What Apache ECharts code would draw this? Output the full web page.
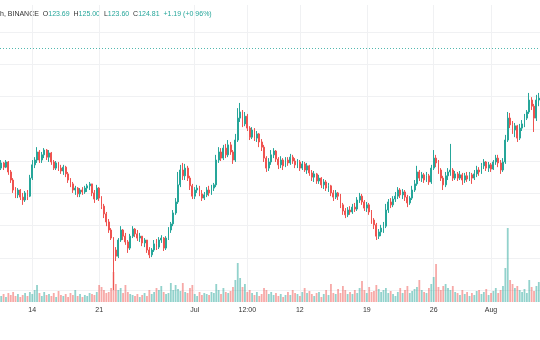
<!DOCTYPE html>
<html><head><meta charset="utf-8">
<script src="https://cdn.jsdelivr.net/npm/echarts@6/dist/echarts.min.js"></script>
<style>html,body{margin:0;padding:0;background:#fff}#c{width:540px;height:340px}</style>
</head><body><div id="c"></div>
<script>
// 6h candles starting 2022-06-10 18:00 UTC
const startUTC = Date.UTC(2022, 5, 10, 18);
const stepHours = 6;
const firstOpen = 87.8;
const closes = [
89.4,88.1,89.7,86.6,84.1,81.0,79.5,81.0,78.8,77.9,
80.1,79.1,84.7,88.8,90.3,92.8,90.3,91.9,93.4,91.2,
92.5,89.7,87.8,89.4,87.8,86.9,88.1,86.0,84.1,82.9,
81.0,81.6,79.8,81.0,80.4,81.6,82.3,82.9,80.1,78.2,
81.6,78.5,76.0,73.6,71.1,68.6,66.1,62.4,60.5,65.5,
68.6,66.7,64.9,63.0,66.7,68.9,67.4,66.1,66.7,64.6,
65.5,62.4,60.9,62.4,64.3,63.3,65.5,66.1,63.0,66.1,
68.6,70.5,73.9,77.3,82.6,87.2,85.4,87.8,84.7,82.3,
79.1,81.0,81.6,79.8,78.5,79.5,81.0,80.1,81.6,82.6,
90.3,92.8,90.9,94.0,91.9,95.0,92.8,90.3,96.5,103.3,
105.2,101.5,103.9,100.2,97.4,99.6,97.1,98.4,95.9,94.3,
90.9,87.8,89.7,91.9,93.1,90.6,88.8,90.3,88.5,90.3,
89.4,91.2,90.0,88.8,89.7,87.8,89.1,87.2,88.5,86.3,
85.0,86.0,83.8,84.7,82.6,83.5,81.6,82.3,80.1,78.8,
80.1,79.1,76.4,74.5,73.3,74.8,74.2,75.7,75.1,77.9,
79.1,77.3,75.4,76.4,74.2,71.7,70.2,66.7,68.0,69.2,
69.8,74.8,77.3,76.4,78.2,79.1,81.0,79.5,80.4,78.8,
77.0,78.5,81.0,82.9,86.6,84.7,85.7,84.1,85.4,83.5,
87.8,90.9,89.4,87.2,84.7,82.6,85.4,86.6,87.2,84.7,
86.0,84.7,85.7,84.1,85.4,84.4,85.7,84.7,86.0,87.2,
86.6,88.5,89.7,87.8,88.8,87.5,89.7,90.9,89.4,87.2,
89.7,96.5,103.3,101.2,99.6,100.9,97.1,100.2,101.5,103.3,
105.2,108.9,107.0,103.3,108.9,109.5];
const highs = [
90.3,89.7,90.3,90.0,87.2,84.7,81.9,81.6,81.3,80.1,
80.7,81.0,85.7,90.3,91.2,94.3,93.4,92.8,94.0,93.7,
93.4,92.8,90.3,90.0,89.7,88.8,88.8,88.5,86.6,84.7,
83.5,82.3,81.9,81.6,81.9,82.3,82.9,83.5,82.6,81.0,
82.6,81.9,79.1,76.7,74.2,72.0,69.2,66.4,63.3,66.1,
69.8,68.9,67.7,65.5,67.4,69.8,69.2,68.6,67.7,66.7,
66.1,65.5,63.3,63.0,65.5,65.8,66.4,67.0,66.4,66.7,
69.5,71.1,74.8,78.5,86.6,88.8,89.4,89.1,88.5,85.4,
82.9,81.9,82.6,82.3,81.0,80.4,81.9,82.3,82.6,83.2,
91.9,94.3,94.0,95.0,95.3,96.5,95.9,93.4,98.4,106.4,
108.0,105.8,105.2,104.6,100.8,100.5,100.2,99.3,98.7,96.8,
95.0,91.5,90.9,93.4,94.0,93.4,91.2,91.5,90.9,91.2,
91.2,92.2,91.9,90.9,90.6,90.3,90.0,89.7,89.4,88.8,
87.2,86.9,86.3,85.7,85.0,84.4,84.1,83.2,82.6,81.0,
81.0,80.4,79.8,77.0,75.4,75.7,76.0,76.7,77.0,78.8,
80.1,79.8,77.9,77.3,77.0,74.8,72.3,70.8,68.9,70.2,
71.1,76.7,78.2,78.5,79.1,80.4,81.9,81.6,81.3,81.0,
79.5,79.1,82.3,84.1,88.5,87.2,86.6,86.3,86.6,86.0,
88.8,93.4,91.9,90.3,87.8,85.4,86.6,87.8,95.3,87.8,
86.9,86.6,86.9,86.3,86.3,86.6,86.6,86.3,87.2,88.5,
88.1,89.4,90.6,90.0,89.7,89.4,90.3,91.9,91.9,90.3,
90.9,98.1,105.2,104.9,102.4,101.8,101.2,101.5,102.7,104.6,
105.8,111.1,109.8,107.7,110.5,111.1];
const lows = [
87.2,87.2,87.8,85.7,83.2,80.1,78.5,78.5,77.9,76.4,
77.3,77.9,78.8,84.1,87.8,89.4,89.4,89.4,90.9,90.3,
89.7,88.8,87.2,87.2,86.9,86.0,85.7,85.0,83.2,81.9,
80.1,79.5,78.8,78.8,79.5,79.8,80.4,81.0,79.1,77.0,
77.9,77.6,75.1,72.3,69.8,67.7,65.5,50.0,59.0,59.9,
64.9,65.5,64.0,61.5,62.4,66.1,66.4,65.2,64.9,63.6,
63.3,61.5,59.9,60.2,61.8,62.4,62.7,64.6,62.1,62.4,
65.5,67.7,69.8,73.3,76.7,81.9,84.1,84.1,83.8,81.0,
78.2,78.2,80.1,79.1,77.6,77.9,78.8,79.1,79.5,80.7,
81.9,89.4,90.0,90.3,90.9,91.2,91.9,89.1,89.7,95.9,
102.1,100.5,100.8,99.3,96.5,96.8,96.2,95.9,94.3,93.1,
89.7,86.6,86.9,88.8,90.9,89.7,87.5,87.8,87.2,88.1,
88.5,88.8,89.1,87.8,87.8,86.9,87.2,86.6,86.0,85.4,
83.8,83.5,82.9,82.9,81.6,81.3,80.7,80.4,79.1,77.6,
78.2,77.9,75.4,73.3,72.3,72.6,73.3,73.6,74.2,74.5,
77.0,76.4,74.5,74.2,73.3,70.5,68.9,65.5,65.8,66.7,
67.7,69.2,73.9,75.4,75.7,77.3,78.2,78.5,78.2,77.6,
75.7,76.4,77.9,80.4,82.3,83.8,83.5,83.2,83.5,82.6,
82.9,87.2,88.1,86.0,83.8,81.0,81.9,84.1,85.4,83.8,
84.1,83.8,84.1,82.6,83.2,83.5,83.8,82.9,84.1,85.0,
85.4,86.0,87.5,86.9,86.6,86.6,87.2,88.8,88.1,86.0,
86.6,89.1,95.9,100.2,98.4,97.4,95.9,96.5,99.3,100.5,
102.7,104.6,105.8,99.0,102.4,107.0];
const volumes = [
6,8,5,9,7,10,6,8,5,7,
9,6,10,8,12,17,9,6,10,7,
8,6,9,5,11,7,6,8,5,9,
7,12,6,8,5,7,6,9,8,7,
10,17,15,12,9,10,14,30,18,12,
14,9,17,10,8,7,6,8,5,7,
9,6,12,8,10,14,12,16,10,8,
9,19,12,17,13,11,19,10,9,14,
17,8,6,10,7,9,8,7,10,9,
18,12,8,14,10,9,11,15,22,39,
24,15,18,10,12,9,7,10,6,8,
14,12,8,10,7,9,6,8,5,7,
10,7,12,9,8,6,10,14,9,11,
8,6,9,10,5,8,12,7,18,9,
8,13,9,16,12,8,10,8,12,9,
14,21,12,9,15,10,11,17,13,10,
12,14,9,11,8,6,10,14,9,12,
16,9,11,13,15,22,12,10,9,14,
18,25,38,15,12,16,18,14,12,16,
10,9,7,12,8,10,6,9,7,11,
12,8,10,13,7,9,11,14,9,12,
16,34,74,22,18,14,16,12,10,13,
9,22,15,11,16,20];
const tickLabels = [
  ['06-14 00:00','14'],['06-21 00:00','21'],['07-01 00:00','Jul'],['07-06 12:00','12:00'],
  ['07-12 00:00','12'],['07-19 00:00','19'],['07-26 00:00','26'],['08-01 00:00','Aug']];
const headerTitle = 'h, BINANCE';
const headerKeys = ['O','H','L','C'];
const headerValues = ['123.69','125.00','123.60','124.81'];
const headerChange = '+1.19 (+0.96%)';
const lastPrice = 124.81;

const pad = n => String(n).padStart(2,'0');
const categories = closes.map((_, i) => {
  const d = new Date(startUTC + i * stepHours * 3600e3);
  return pad(d.getUTCMonth()+1) + '-' + pad(d.getUTCDate()) + ' ' + pad(d.getUTCHours()) + ':00';
});
const labelMap = Object.fromEntries(tickLabels);
const isTick = (idx, val) => labelMap[val !== undefined ? val : categories[idx]] !== undefined;

const opens = closes.map((c, i) => i === 0 ? firstOpen : closes[i-1]);
const candleData = closes.map((c, i) => [opens[i], c, lows[i], highs[i]]);
const UP = '#26a69a', DOWN = '#ef5350';
const volData = volumes.map((v, i) => ({
  value: v,
  itemStyle: { color: closes[i] >= opens[i] ? 'rgba(38,166,154,0.5)' : 'rgba(239,83,80,0.5)' }
}));

let head = '{d|' + headerTitle + '}';
headerKeys.forEach((k, i) => { head += '  {d|' + k + '}{g|' + headerValues[i] + '}'; });
head += '  {g|' + headerChange + '}';

const FONT = 'Liberation Sans, Arial, sans-serif';
const chart = echarts.init(document.getElementById('c'), null, { renderer: 'canvas' });
chart.setOption({
  animation: false,
  backgroundColor: '#ffffff',
  grid: [
    { left: 0, right: 0, top: 32, height: 258 },
    { left: 0, right: 0, top: 5, height: 297 }
  ],
  xAxis: [
    { type: 'category', gridIndex: 0, data: categories, boundaryGap: true, show: false },
    { type: 'category', gridIndex: 1, data: categories, boundaryGap: true,
      axisLine: { show: false },
      axisTick: { show: false, alignWithLabel: true, interval: isTick },
      axisLabel: { interval: isTick, formatter: v => labelMap[v], margin: 5,
        fontSize: 7, color: '#333333', fontFamily: FONT },
      splitLine: { show: true, interval: isTick, alignWithLabel: true,
        lineStyle: { color: '#f0f1f3', width: 1 } } }
  ],
  yAxis: [
    { type: 'value', gridIndex: 0, min: 50, max: 130, interval: 10, position: 'right',
      axisLabel: { show: false }, axisLine: { show: false }, axisTick: { show: false },
      splitLine: { show: true, lineStyle: { color: '#f0f1f3', width: 1 } } },
    { type: 'value', gridIndex: 1, min: 0, max: 297, show: false }
  ],
  graphic: [{
    type: 'text', left: 0, top: 11, silent: true,
    style: {
      text: head,
      font: '7px ' + FONT,
      rich: {
        d: { fill: '#333333', fontSize: 7, fontFamily: FONT },
        g: { fill: '#26a69a', fontSize: 7, fontFamily: FONT }
      }
    }
  }],
  series: [
    { type: 'bar', xAxisIndex: 1, yAxisIndex: 1, data: volData, barWidth: 1.8, silent: true },
    { type: 'candlestick', xAxisIndex: 0, yAxisIndex: 0, data: candleData, barWidth: 1.4,
      itemStyle: { color: UP, color0: DOWN, borderColor: UP, borderColor0: DOWN, borderWidth: 1 },
      markLine: { silent: true, symbol: ['none','none'], label: { show: false },
        lineStyle: { color: UP, type: [1,2], width: 1, opacity: 0.8 },
        data: [{ yAxis: lastPrice }] } }
  ]
});
</script>
</body></html>
